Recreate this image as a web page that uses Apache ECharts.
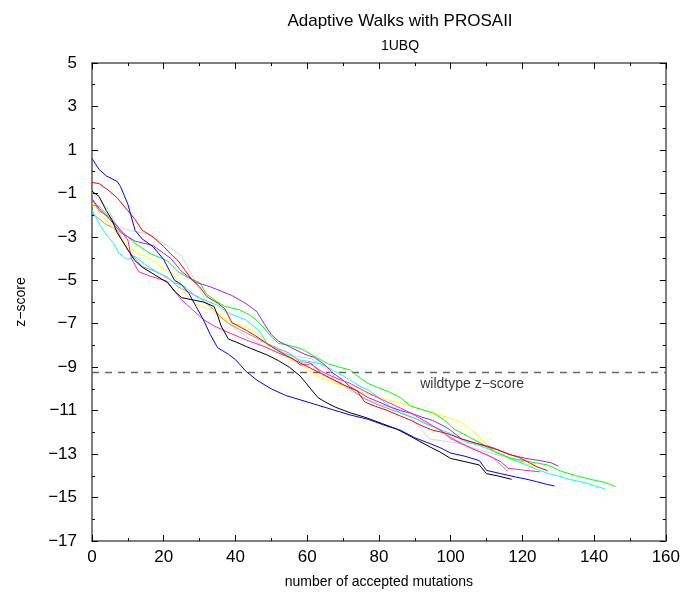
<!DOCTYPE html>
<html>
<head>
<meta charset="utf-8">
<script src="https://cdn.jsdelivr.net/npm/echarts@6/dist/echarts.min.js"></script>
<style>html,body{margin:0;padding:0;background:#fff}#c{width:683px;height:597px}</style>
</head>
<body>
<div id="c"></div>
<script>
var titleText = 'Adaptive Walks with PROSAII';
var subtitleText = '1UBQ';
var xName = 'number of accepted mutations';
var yName = 'z\u2212score';
var wildtypeLabel = 'wildtype z\u2212score';
var wildtypeZ = -9.25;
var wildtypeLabelPos = [106, -9.77];

var blue = [[0,0.6],[2,0.1],[4,-0.2],[7,-0.45],[8,-0.7],[10,-1.5],[12,-2.7],[14,-3.1],[17,-3.45],[20,-4.05],[23,-5.0],[25,-5.2],[27,-5.6],[29,-6.2],[31,-6.8],[33,-7.5],[35,-8.1],[38,-8.4],[40,-8.65],[43,-9.2],[46,-9.6],[50,-10.0],[54,-10.3],[58,-10.5],[62,-10.7],[67,-10.95],[72,-11.2],[77,-11.4],[82,-11.7],[86,-11.9],[90,-12.25],[94,-12.5],[97,-12.7],[100,-12.95],[104,-13.1],[108,-13.3],[110,-13.75],[114,-13.9],[118,-14.05],[121,-14.15],[124,-14.27],[127,-14.4],[129,-14.47]];
var black = [[0,-0.9],[2,-1.15],[4,-1.8],[5.5,-2.2],[7,-2.8],[10,-3.6],[12,-4.1],[14,-4.4],[17,-4.7],[21,-5.1],[23,-5.5],[25,-5.8],[28,-5.9],[31,-6.0],[34,-6.2],[35,-6.6],[36,-7.1],[38,-7.7],[41,-7.9],[43,-8.05],[46,-8.25],[49,-8.45],[52,-8.7],[55,-9.0],[58,-9.4],[61,-10.0],[63,-10.4],[65,-10.6],[68,-10.85],[72,-11.1],[76,-11.3],[81,-11.6],[85,-11.85],[89,-12.2],[94,-12.65],[97,-12.9],[100,-13.2],[104,-13.35],[108,-13.5],[110,-13.9],[113,-14.0],[117,-14.16]];
var red = [[0,-0.5],[2,-0.55],[4.5,-0.85],[7,-1.2],[10,-1.8],[12,-2.2],[14,-2.7],[17,-3.0],[20,-3.45],[22,-3.8],[24,-4.1],[26,-4.55],[28,-5.0],[30,-5.3],[32,-5.75],[35,-6.05],[37,-6.3],[39,-6.95],[43,-7.3],[46,-7.6],[50,-8.05],[54,-8.45],[58,-8.8],[61,-9.05],[64,-9.3],[67,-9.55],[70,-9.8],[74,-10.1],[76,-10.6],[79,-10.8],[82,-10.97],[86,-11.25],[89,-11.45],[92,-11.7],[95,-11.9],[99,-12.05],[103,-12.3],[108,-12.55],[113,-12.8],[116,-13.0],[119,-13.15],[122,-13.4],[124,-13.58],[127,-13.76]];
var green = [[0,-1.53],[2,-1.6],[5.5,-2.2],[8,-2.7],[12,-3.3],[16,-3.75],[21,-4.1],[24,-4.6],[27,-4.9],[30,-5.1],[32,-5.65],[35,-6.0],[37,-6.2],[41,-6.35],[44,-6.6],[46,-6.85],[48,-7.2],[50,-7.6],[52,-7.9],[55,-8.0],[58,-8.13],[61,-8.4],[63,-8.6],[66,-8.85],[69,-9.0],[72,-9.13],[74,-9.4],[77,-9.75],[80,-9.95],[83,-10.15],[86,-10.4],[89,-10.8],[92,-10.95],[95,-11.1],[98,-11.4],[101,-11.85],[105,-12.2],[109,-12.55],[113,-12.95],[117,-13.2],[122,-13.35],[127,-13.5],[131,-13.8],[136,-14.04],[140,-14.2],[143,-14.3],[146,-14.5]];
var purple = [[0,-1.25],[2,-1.7],[5,-2.2],[8,-2.8],[12,-3.2],[17,-3.4],[22,-4.0],[25,-4.6],[29,-5.1],[33,-5.3],[36,-5.5],[39,-5.7],[42,-5.98],[44,-6.2],[46,-6.45],[48,-7.0],[50,-7.5],[52,-7.8],[55,-8.05],[58,-8.3],[60,-8.45],[62,-8.55],[65,-8.9],[67,-9.25],[70,-9.6],[72,-9.9],[75,-10.2],[77,-10.4],[80,-10.6],[83,-10.82],[86,-11.0],[89,-11.12],[92,-11.3],[95,-11.45],[98,-11.7],[100,-11.9],[103,-12.3],[107,-12.5],[111,-12.66],[114,-12.85],[117,-13.04],[121,-13.2],[125,-13.3],[128,-13.4],[130,-13.55]];
var cyan = [[0,-1.77],[2,-2.4],[4,-2.9],[6,-3.3],[7.5,-3.75],[9,-3.95],[10,-4.05],[12,-3.9],[15,-4.3],[19,-4.7],[23,-5.1],[26,-5.3],[29,-5.75],[32,-5.95],[35,-6.15],[38,-6.5],[41,-6.7],[43,-6.83],[45,-7.1],[47,-7.4],[49,-8.0],[51,-8.1],[53,-8.3],[56,-8.5],[58,-8.67],[61,-8.75],[64,-8.85],[67,-9.13],[70,-9.4],[72,-9.6],[75,-9.9],[77,-10.05],[80,-10.4],[83,-10.8],[86,-11.1],[90,-11.35],[93,-11.6],[96,-11.8],[100,-12.05],[104,-12.43],[108,-12.6],[111,-12.8],[114,-13.0],[117,-13.24],[121,-13.5],[124,-13.7],[127,-13.88],[130,-14.0],[133,-14.16],[137,-14.3],[140,-14.45],[143,-14.6]];
var yellow = [[0,-1.46],[3,-2.07],[5,-2.4],[7,-2.84],[10,-3.45],[13,-3.8],[15,-3.9],[18,-4.2],[20,-4.5],[23,-4.8],[25,-5.4],[27,-5.8],[29,-6.1],[32,-6.3],[34,-6.37],[36,-6.6],[38,-6.95],[41,-7.05],[43,-7.14],[45,-7.35],[47,-7.6],[49,-8.1],[52,-8.35],[55,-8.6],[58,-8.85],[61,-9.2],[64,-9.5],[67,-9.7],[71,-9.9],[76,-10.2],[80,-10.4],[86,-10.66],[90,-10.85],[95,-11.1],[100,-11.35],[103,-11.55],[105,-11.8],[107,-12.05],[110,-12.55],[112,-12.85],[115,-13.05],[117,-13.27],[120,-13.4],[122,-13.5],[125,-13.65]];
var magenta = [[0,-1.27],[2,-1.8],[4.5,-2.07],[7,-2.5],[10,-3.15],[11,-4.0],[13,-4.6],[16,-4.8],[21,-5.05],[23,-5.5],[25,-5.9],[28,-6.35],[31,-6.8],[34,-7.1],[38,-7.4],[43,-7.75],[48,-8.05],[52,-8.35],[56,-8.6],[58,-8.9],[61,-8.85],[64,-9.2],[68,-9.5],[72,-9.75],[76,-10.1],[81,-10.5],[85,-10.8],[89,-11.12],[93,-11.5],[97,-11.9],[100,-12.25],[103,-12.5],[106,-12.75],[111,-13.1],[114,-13.35],[116,-13.65],[120,-13.73],[125,-13.82]];
var lightgray = [[0,-1.0],[2,-1.3],[4,-1.6],[7,-2.5],[10,-2.7],[15,-2.85],[21,-3.4],[25,-3.9],[27,-4.5],[30,-5.4],[32,-6.0],[34,-6.5],[38,-7.0],[43,-7.6],[47,-7.95],[52,-8.35],[57,-8.5],[61,-8.6],[65,-9.0],[68,-9.5],[72,-10.1],[77,-10.5],[81,-10.75],[86,-10.97],[90,-11.5],[94,-12.3],[98,-12.4],[102,-12.5],[107,-12.75],[113,-13.04],[117,-13.2],[121,-13.4]];
var rosybrown = [[0,-1.92],[3.5,-2.38],[7,-2.7],[10,-3.6],[14,-4.37],[17,-4.55],[21,-4.85],[24,-5.3],[27,-5.55],[30,-5.8],[33,-6.2],[36,-6.7],[38,-6.98],[41,-7.25],[44,-7.5],[48,-7.85],[52,-8.15],[55,-8.35],[58,-8.75],[61,-8.8],[64,-9.3],[68,-9.65],[72,-10.0],[76,-10.45],[80,-10.75],[85,-11.05],[90,-11.35],[94,-11.66],[97,-11.85],[100,-12.3],[104,-12.6],[108,-12.88],[112,-13.2],[114,-13.5],[116,-13.8]];

var walks = [
  {name:'lightgray', color:'#d3d3d3', data:lightgray},
  {name:'rosybrown', color:'#bc8f8f', data:rosybrown},
  {name:'yellow', color:'#ffff00', data:yellow},
  {name:'cyan', color:'#00ffff', data:cyan},
  {name:'green', color:'#00ff00', data:green},
  {name:'purple', color:'#a020f0', data:purple},
  {name:'magenta', color:'#ff20d0', data:magenta},
  {name:'red', color:'#ff0000', data:red},
  {name:'black', color:'#000000', data:black},
  {name:'blue', color:'#0000ff', data:blue}
];

var FONT = 'Liberation Sans, Arial, Helvetica, sans-serif';
var axisColor = '#555';
function minusFmt(v) { return String(v).replace('-', '\u2212'); }

function mkX(show, pos) {
  return {
    type:'value', min:0, max:160, interval:20, position:pos,
    name: show ? xName : '', nameLocation:'middle', nameGap:34,
    nameTextStyle:{fontFamily:FONT, fontSize:14, color:'#000'},
    axisLine:{show:true, onZero:false, lineStyle:{color:axisColor, width:1.5}},
    axisTick:{show:true, inside:true, length:6, lineStyle:{color:'#000'}},
    minorTick:{show:true, splitNumber:2, length:3, lineStyle:{color:'#000'}},
    axisLabel:{show:show, fontFamily:FONT, fontSize:17, color:'#000', margin:8, formatter:minusFmt},
    splitLine:{show:false}
  };
}
function mkY(show, pos) {
  return {
    type:'value', min:-17, max:5, interval:2, position:pos,
    name: show ? yName : '', nameLocation:'middle', nameGap:64,
    nameTextStyle:{fontFamily:FONT, fontSize:14, color:'#000'},
    axisLine:{show:true, onZero:false, lineStyle:{color:axisColor, width:1.5}},
    axisTick:{show:true, inside:true, length:6, lineStyle:{color:'#000'}},
    minorTick:{show:true, splitNumber:2, length:3, lineStyle:{color:'#000'}},
    axisLabel:{show:show, fontFamily:FONT, fontSize:17, color:'#000', margin:15, formatter:minusFmt},
    splitLine:{show:false}
  };
}

var series = walks.map(function(w){
  return {type:'line', name:w.name, data:w.data, showSymbol:false, symbol:'none',
    lineStyle:{color:w.color, width:1}, itemStyle:{color:w.color}, silent:true, z:3};
});
series.push({
  type:'line', name:'wildtype', data:[[0,wildtypeZ],[160,wildtypeZ]], symbol:'none',
  lineStyle:{color:'#666', width:1.5, type:[7,6]}, silent:true, z:2
});
series.push({
  type:'scatter', name:'label', data:[wildtypeLabelPos], symbolSize:0, silent:true,
  label:{show:true, position:'inside', formatter:wildtypeLabel, fontFamily:FONT, fontSize:14, color:'#000'}
});

var chart = echarts.init(document.getElementById('c'), null, {renderer:'canvas'});
chart.setOption({
  backgroundColor:'#fff',
  animation:false,
  title:[
    {text:titleText, left:395, top:8, textAlign:'center', textStyle:{fontFamily:FONT, fontSize:17, fontWeight:'normal', color:'#000'}},
    {text:subtitleText, left:395, top:34, textAlign:'center', textStyle:{fontFamily:FONT, fontSize:14, fontWeight:'normal', color:'#000'}}
  ],
  grid:{left:92, right:17, top:63, bottom:56, containLabel:false},
  xAxis:[mkX(true,'bottom'), mkX(false,'top')],
  yAxis:[mkY(true,'left'), mkY(false,'right')],
  series:series
});
</script>
</body>
</html>
